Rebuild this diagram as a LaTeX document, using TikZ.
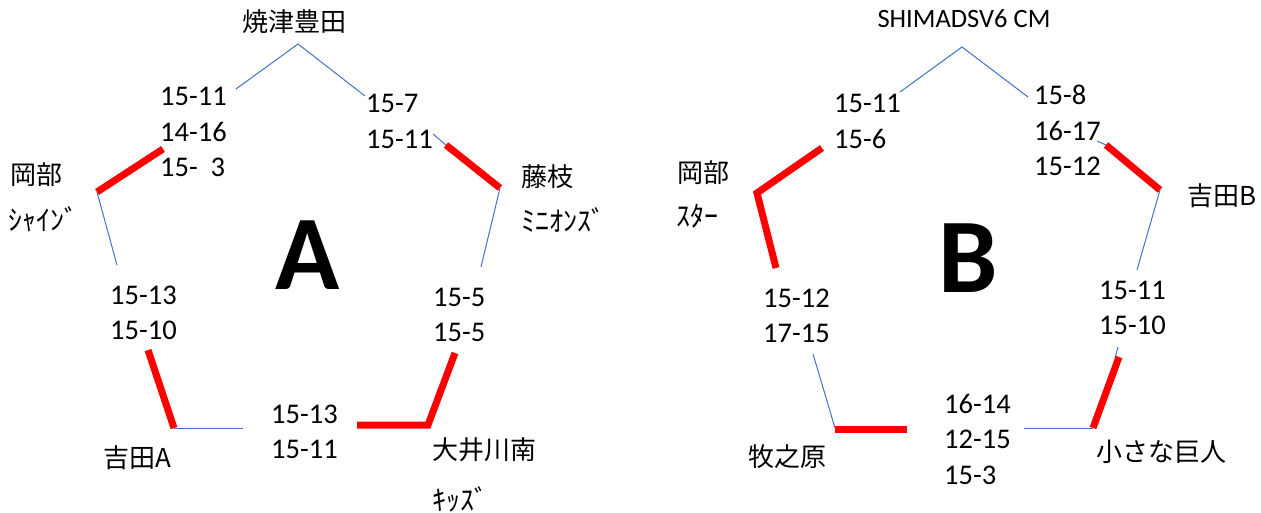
\documentclass[tikz,border=0pt]{standalone}
\usepackage{fontspec}
\setmainfont{Carlito}
\newfontfamily\jp{Noto Sans CJK JP}
\definecolor{lineblue}{HTML}{4472C4}
\definecolor{linered}{HTML}{FF0000}
\newcommand\scorelist[1]{\begin{tabular}[t]{@{}l@{}}#1\end{tabular}}
\tikzset{
  blueline/.style={draw=lineblue, line width=1pt},
  redline/.style={draw=linered, line width=7pt, line join=miter},
  score/.style={font=\fontsize{28.5}{35.5}\selectfont, inner sep=0pt, anchor=base west},
  jplabel/.style={font=\jp\fontsize{26}{30}\selectfont, inner sep=0pt, anchor=west},
  kana/.style={font=\jp\fontsize{28}{30}\selectfont, inner sep=0pt, anchor=west},
  latinlabel/.style={font=\fontsize{26.5}{30}\selectfont, inner sep=0pt},
  bigletter/.style={font=\bfseries\fontsize{106}{120}\selectfont, inner sep=0pt}
}
\begin{document}
\begin{tikzpicture}[x=1pt,y=-1pt]
\useasboundingbox[fill=white] (0,0) rectangle (1261,513);

% ---------- Pentagon A ----------
\coordinate (aT) at (298,44);
\coordinate (aTL) at (236,89);
\coordinate (aTR) at (365,96);
\coordinate (aR0) at (433,134);
\coordinate (aR1) at (446,145);
\coordinate (aUR) at (500,188);
\coordinate (aR2) at (481,267);
\coordinate (aR3) at (455,353);
\coordinate (aLR) at (428,425);
\coordinate (aB1) at (357,425);
\coordinate (aB2) at (243,428);
\coordinate (aLL) at (174,428);
\coordinate (aL1) at (148,350);
\coordinate (aL2) at (117,265);
\coordinate (aUL) at (97,192);
\coordinate (aL3) at (163,149);

\draw[blueline] (aTL) -- (aT) -- (aTR);
\draw[blueline] (aR0) -- (aR1);
\draw[redline] (aR1) -- (aUR);
\draw[blueline] (aUR) -- (aR2);
\draw[redline] (aR3) -- (aLR) -- (aB1);
\draw[blueline] (aB2) -- (aLL);
\draw[redline] (aLL) -- (aL1);
\draw[blueline] (aL2) -- (aUL);
\draw[redline] (aUL) -- (aL3);

\node[bigletter] (bigA) at (308,255) {A};

\node[jplabel] (yaizu) at (242,22) {焼津豊田};
\node[jplabel] (okabeA) at (10,175) {岡部};
\node[kana] (shine) at (8,219) {ｼｬｲﾝﾞ};
\node[jplabel] (fujieda) at (521,177) {藤枝};
\node[kana] (minions) at (521,220) {ﾐﾆｵﾝｽﾞ};
\node[jplabel] (yoshidaA) at (103,458) {吉田A};
\node[jplabel] (oigawa) at (432,450) {大井川南};
\node[kana] (kids) at (432,499) {ｷｯｽﾞ};

\node[score] (sA1) at (160,106) {\scorelist{15-11\\14-16\\15-\ \ 3}};
\node[score] (sA2) at (366,113) {\scorelist{15-7\\15-11}};
\node[score] (sA3) at (110,304) {\scorelist{15-13\\15-10}};
\node[score] (sA4) at (433,306) {\scorelist{15-5\\15-5}};
\node[score] (sA5) at (271,423) {\scorelist{15-13\\15-11}};

% ---------- Pentagon B ----------
\coordinate (bT) at (962,47);
\coordinate (bTL) at (900,92);
\coordinate (bTR) at (1028,97);
\coordinate (bR0) at (1097,141);
\coordinate (bR1) at (1106,145);
\coordinate (bUR) at (1160,190);
\coordinate (bR2) at (1137,270);
\coordinate (bR3) at (1118,347);
\coordinate (bR4) at (1115,358);
\coordinate (bR5) at (1119,357);
\coordinate (bLR) at (1093,428);
\coordinate (bB1) at (1024,428);
\coordinate (bB2) at (907,429);
\coordinate (bLL) at (835,429);
\coordinate (bL1) at (835,428);
\coordinate (bL2) at (813,354);
\coordinate (bL3) at (776,268);
\coordinate (bUL) at (757,193);
\coordinate (bL4) at (822,148);

\draw[blueline] (bTL) -- (bT) -- (bTR);
\draw[blueline] (bR0) -- (bR1);
\draw[redline] (bR1) -- (bUR);
\draw[blueline] (bUR) -- (bR2);
\draw[blueline] (bR3) -- (bR4);
\draw[blueline] (bLR) -- (bB1);
\draw[redline] (bR5) -- (bLR);
\draw[redline] (bB2) -- (bLL);
\draw[blueline] (bL1) -- (bL2);
\draw[redline] (bL3) -- (bUL) -- (bL4);

\node[bigletter] (bigB) at (968,258) {B};

\node[latinlabel] (shimada) at (964,19) {SHIMADSV6 CM};
\node[jplabel] (okabeB) at (677,173) {岡部};
\node[kana] (star) at (676,216) {ｽﾀｰ};
\node[jplabel] (yoshidaB) at (1187,196) {吉田B};
\node[jplabel] (makinohara) at (748,457) {牧之原};
\node[jplabel] (chiisana) at (1096,452) {小さな巨人};

\node[score] (sB1) at (834,113) {\scorelist{15-11\\15-6}};
\node[score] (sB2) at (1034,105) {\scorelist{15-8\\16-17\\15-12}};
\node[score] (sB3) at (763,307) {\scorelist{15-12\\17-15}};
\node[score] (sB4) at (1099,299) {\scorelist{15-11\\15-10}};
\node[score] (sB5) at (944,413) {\scorelist{16-14\\12-15\\15-3}};
\end{tikzpicture}
\end{document}
